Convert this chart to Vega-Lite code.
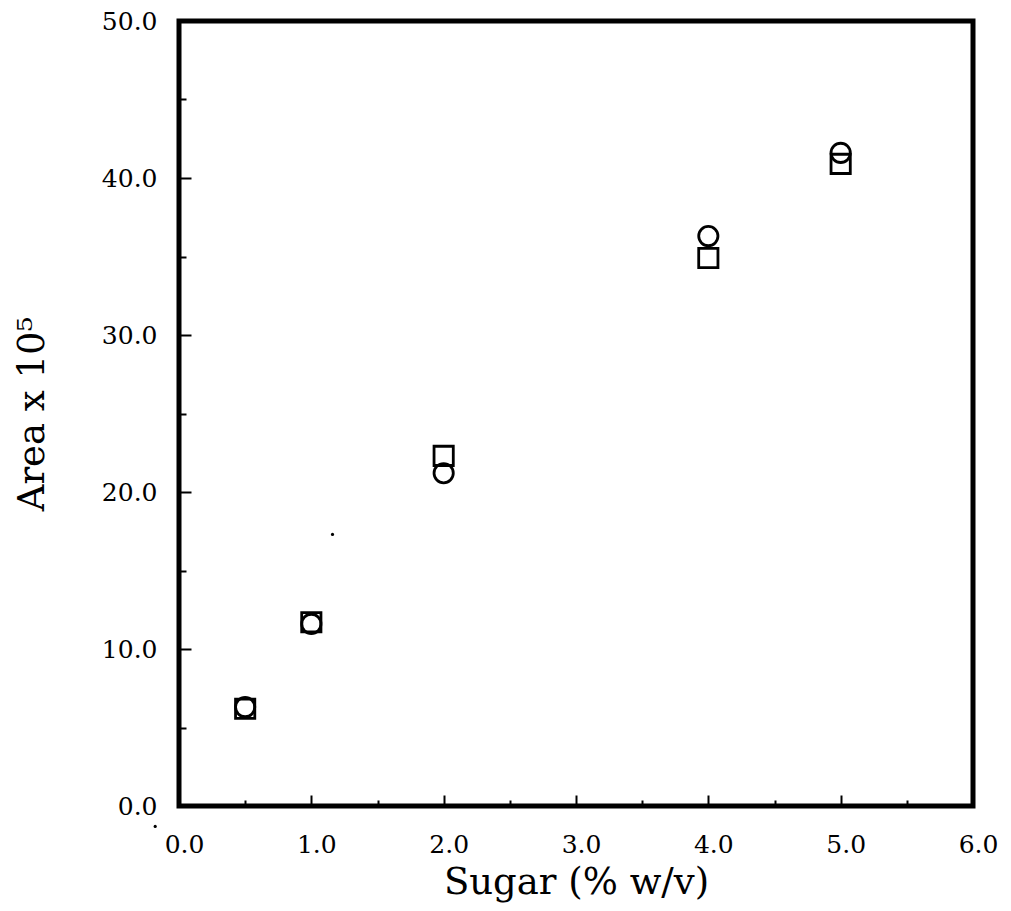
{
  "$schema": "https://vega.github.io/schema/vega-lite/v6.json",
  "width": 794,
  "height": 785,
  "autosize": "none",
  "padding": {"left": 179, "top": 21, "right": 38, "bottom": 105},
  "background": "white",
  "config": {
    "view": {"stroke": "black", "strokeWidth": 5, "fill": null},
    "axis": {
      "domain": false,
      "grid": false,
      "tickColor": "black",
      "tickWidth": 2,
      "labelFont": "DejaVu Serif",
      "labelFontSize": 25,
      "labelColor": "black",
      "titleFont": "DejaVu Serif",
      "titleFontSize": 37,
      "titleFontWeight": "normal",
      "titleColor": "black"
    }
  },
  "datasets": {
    "points": [
      {"sugar": 0.5, "area": 6.2, "series": "square"},
      {"sugar": 1.0, "area": 11.7, "series": "square"},
      {"sugar": 2.0, "area": 22.3, "series": "square"},
      {"sugar": 4.0, "area": 34.9, "series": "square"},
      {"sugar": 5.0, "area": 40.9, "series": "square"},
      {"sugar": 0.5, "area": 6.3, "series": "circle"},
      {"sugar": 1.0, "area": 11.6, "series": "circle"},
      {"sugar": 2.0, "area": 21.2, "series": "circle"},
      {"sugar": 4.0, "area": 36.3, "series": "circle"},
      {"sugar": 5.0, "area": 41.6, "series": "circle"}
    ],
    "specks": [
      {"sugar": 1.16, "area": 17.3},
      {"sugar": -0.18, "area": -1.3}
    ]
  },
  "layer": [
    {
      "data": {"name": "points"},
      "mark": {"type": "point", "filled": false, "stroke": "black", "strokeWidth": 2.8, "size": 370, "opacity": 1},
      "encoding": {
        "x": {
          "field": "sugar",
          "type": "quantitative",
          "scale": {"domain": [0, 6], "nice": false, "zero": false},
          "axis": {
            "title": "Sugar (% w/v)",
            "values": [0, 0.5, 1, 1.5, 2, 2.5, 3, 3.5, 4, 4.5, 5, 5.5, 6],
            "labelExpr": "datum.value % 1 === 0 ? format(datum.value, '.1f') : ''",
            "tickSize": {"condition": {"test": "datum.value % 1 === 0", "value": -11}, "value": -6},
            "labelPadding": 37,
            "labelOffset": 5,
            "labelFlush": false,
            "labelOverlap": false,
            "titleY": 87,
            "titleBaseline": "alphabetic"
          }
        },
        "y": {
          "field": "area",
          "type": "quantitative",
          "scale": {"domain": [0, 50], "nice": false},
          "axis": {
            "title": "Area x 10⁵",
            "values": [0, 5, 10, 15, 20, 25, 30, 35, 40, 45, 50],
            "labelExpr": "datum.value % 10 === 0 ? format(datum.value, '.1f') : ''",
            "tickSize": {"condition": {"test": "datum.value % 10 === 0", "value": -12}, "value": -7},
            "labelPadding": 34,
            "labelFlush": false,
            "labelOverlap": false,
            "titleX": -136,
            "titleBaseline": "alphabetic"
          }
        },
        "shape": {
          "field": "series",
          "type": "nominal",
          "scale": {"domain": ["square", "circle"], "range": ["square", "circle"]},
          "legend": null
        }
      }
    },
    {
      "data": {"name": "specks"},
      "mark": {"type": "circle", "color": "black", "size": 10, "opacity": 1},
      "encoding": {
        "x": {"field": "sugar", "type": "quantitative"},
        "y": {"field": "area", "type": "quantitative"}
      }
    }
  ]
}
